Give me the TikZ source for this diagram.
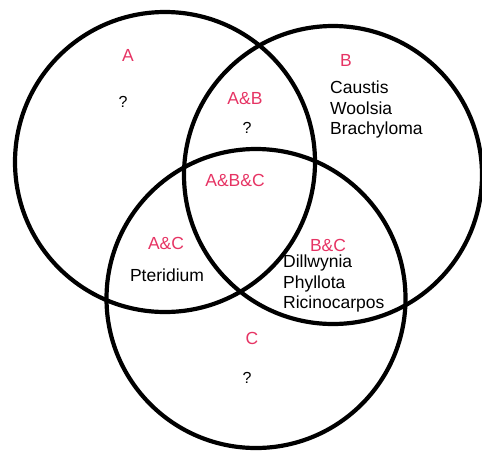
\documentclass[tikz,border=0pt]{standalone}
\usepackage{fontspec}
\setmainfont{Liberation Sans}
\definecolor{lab}{RGB}{230,52,100}
\begin{document}
\begin{tikzpicture}[x=1pt,y=-1pt,
  ring/.style={draw=black,line width=4.2pt},
  setlab/.style={text=lab,font=\fontsize{17.5}{20}\selectfont,inner sep=0pt},
  item/.style={text=black,font=\fontsize{17.5}{20.5}\selectfont,inner sep=0pt,align=left},
  qm/.style={text=black,font=\fontsize{16}{18}\selectfont,inner sep=0pt}]
\useasboundingbox (0,0) rectangle (482,451);
\begin{scope}
\clip (0,0) rectangle (482,451);
\draw[ring] (165,162) circle[radius=150];
\draw[ring] (333,175) circle[radius=149];
\draw[ring] (256,298.5) circle[radius=149.5];
\end{scope}
\node[setlab] (la) at (128,55) {A};
\node[qm] (qa) at (123,102) {?};
\node[setlab] (lab) at (245,99) {A\&B};
\node[qm] (qab) at (247,128) {?};
\node[setlab] (lb) at (346,60) {B};
\node[item,anchor=north west] (ib) at (330,81) {Caustis\\Woolsia\\Brachyloma};
\node[setlab] (labc) at (235,180) {A\&B\&C};
\node[setlab] (lac) at (166,243) {A\&C};
\node[item] (iac) at (167,275) {Pteridium};
\node[setlab] (lbc) at (328,245) {B\&C};
\node[item,anchor=north west] (ibc) at (283,255) {Dillwynia\\Phyllota\\Ricinocarpos};
\node[setlab] (lc) at (252,338) {C};
\node[qm] (qc) at (247,378) {?};
\end{tikzpicture}
\end{document}
